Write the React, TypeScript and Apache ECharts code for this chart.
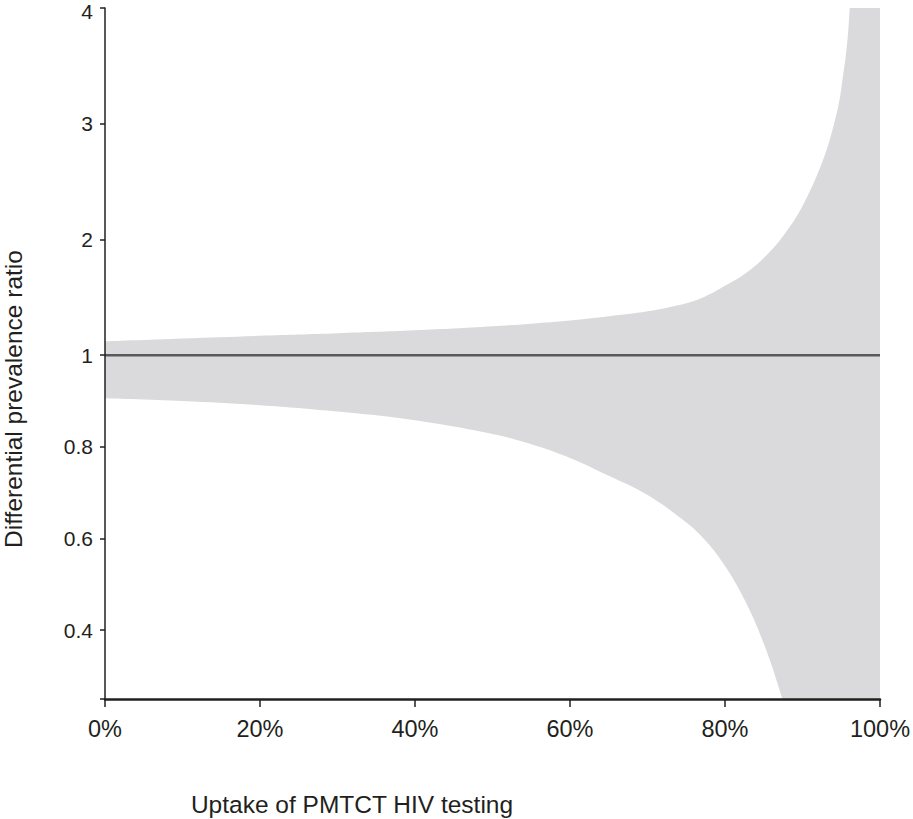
import React, { useEffect, useRef } from "react";
import * as echarts from "echarts";

// ---- data ----
const uptakePct = [0, 10, 20, 30, 40, 50, 55, 60, 65, 70, 75, 77.5, 80, 82.5, 85, 87.5, 90, 92.5, 94, 95, 96, 97, 100];
const lowerRatio = [0.906, 0.9, 0.891, 0.877, 0.858, 0.828, 0.806, 0.776, 0.737, 0.695, 0.635, 0.595, 0.54, 0.467, 0.371, 0.245, 0.1, 0.0, 0.0, 0.0, 0.0, 0.0, 0.0];
const upperRatio = [1.12, 1.145, 1.168, 1.19, 1.215, 1.25, 1.273, 1.3, 1.337, 1.38, 1.45, 1.51, 1.6, 1.7, 1.84, 2.03, 2.29, 2.66, 2.98, 3.3, 3.9, 5.5, 12];
const referenceRatio = 1;
const yTickRatios = [0.4, 0.6, 0.8, 1, 2, 3, 4];
const yMinRatio = 0.25;
const yMaxRatio = 4;
const xMin = 0;
const xMax = 100;
const xStep = 20;

// piecewise-linear ratio scale: below 1 is stretched
const K = 3.96;
const T = (v: number) => (v >= 1 ? v - 1 : (v - 1) * K);
const inv = (t: number) => (t >= 0 ? t + 1 : 1 + t / K);

const FONT = "'Liberation Sans', Arial, Helvetica, sans-serif";
const INK = "#231f20";
const BAND = "#dadadc";

export default function App() {
  const ref = useRef<HTMLDivElement>(null);
  useEffect(() => {
    if (!ref.current) return;
    const chart = echarts.init(ref.current, undefined, { renderer: "svg" });
    const upperData = uptakePct.map((x, i) => [x, T(upperRatio[i])]);
    const lowerData = uptakePct.map((x, i) => [x, T(lowerRatio[i])]);
    chart.setOption({
      animation: false,
      backgroundColor: "#ffffff",
      grid: { left: 105, right: 33, top: 8, bottom: 120, outerBoundsMode: "none" },
      xAxis: {
        type: "value",
        z: 10,
        min: xMin,
        max: xMax,
        interval: xStep,
        axisLine: { show: true, onZero: false, lineStyle: { color: INK, width: 2.5 } },
        axisTick: { show: true, length: 8, lineStyle: { color: INK, width: 1.5 } },
        axisLabel: { formatter: "{value}%", fontSize: 23.5, color: INK, fontFamily: FONT, margin: 18 },
        splitLine: { show: false },
      },
      yAxis: {
        type: "value",
        z: 10,
        min: T(yMinRatio),
        max: T(yMaxRatio),
        axisLine: { show: true, onZero: false, lineStyle: { color: INK, width: 1.5 } },
        axisTick: {
          show: true,
          length: 5,
          lineStyle: { color: INK, width: 1.5 },
          customValues: [T(yMinRatio), ...yTickRatios.map(T)],
        },
        axisLabel: {
          fontSize: 21,
          color: INK,
          fontFamily: FONT,
          margin: 12,
          customValues: yTickRatios.map(T),
          formatter: (val: number) => {
            const v = inv(val);
            if (Math.abs(v - yMaxRatio) < 1e-6) return "{top|" + Math.round(v) + "}";
            return v >= 1 ? String(Math.round(v)) : v.toFixed(1);
          },
          rich: {
            top: { fontSize: 21, color: INK, fontFamily: FONT, padding: [6, 0, 0, 0] },
          },
        },
        splitLine: { show: false },
      },
      series: [
        {
          name: "upper",
          type: "line",
          z: 2,
          data: upperData,
          symbol: "none",
          smooth: 0.4,
          lineStyle: { width: 0, opacity: 0 },
          areaStyle: { color: BAND, opacity: 1, origin: "start" },
          clip: true,
          silent: true,
        },
        {
          name: "lower",
          type: "line",
          z: 3,
          data: lowerData,
          symbol: "none",
          smooth: 0.4,
          lineStyle: { width: 0, opacity: 0 },
          areaStyle: { color: "#ffffff", opacity: 1, origin: "start" },
          clip: true,
          silent: true,
        },
        {
          name: "reference",
          type: "line",
          z: 4,
          data: [
            [xMin, T(referenceRatio)],
            [xMax, T(referenceRatio)],
          ],
          symbol: "none",
          lineStyle: { color: "#58595b", width: 2.5 },
          silent: true,
        },
      ],
      graphic: [
        {
          type: "text",
          x: 13,
          y: 399,
          rotation: Math.PI / 2,
          style: {
            text: "Differential prevalence ratio",
            fontSize: 24.5,
            fontFamily: FONT,
            fill: INK,
            textAlign: "center",
            textVerticalAlign: "middle",
          },
        },
        {
          type: "text",
          x: 352,
          y: 804,
          style: {
            text: "Uptake of PMTCT HIV testing",
            fontSize: 24.5,
            fontFamily: FONT,
            fill: INK,
            textAlign: "center",
            textVerticalAlign: "middle",
          },
        },
      ],
    });
    return () => chart.dispose();
  }, []);
  return (
    <div
      ref={ref}
      style={{ position: "absolute", left: 0, top: 0, width: 913, height: 819, background: "#fff" }}
    />
  );
}
